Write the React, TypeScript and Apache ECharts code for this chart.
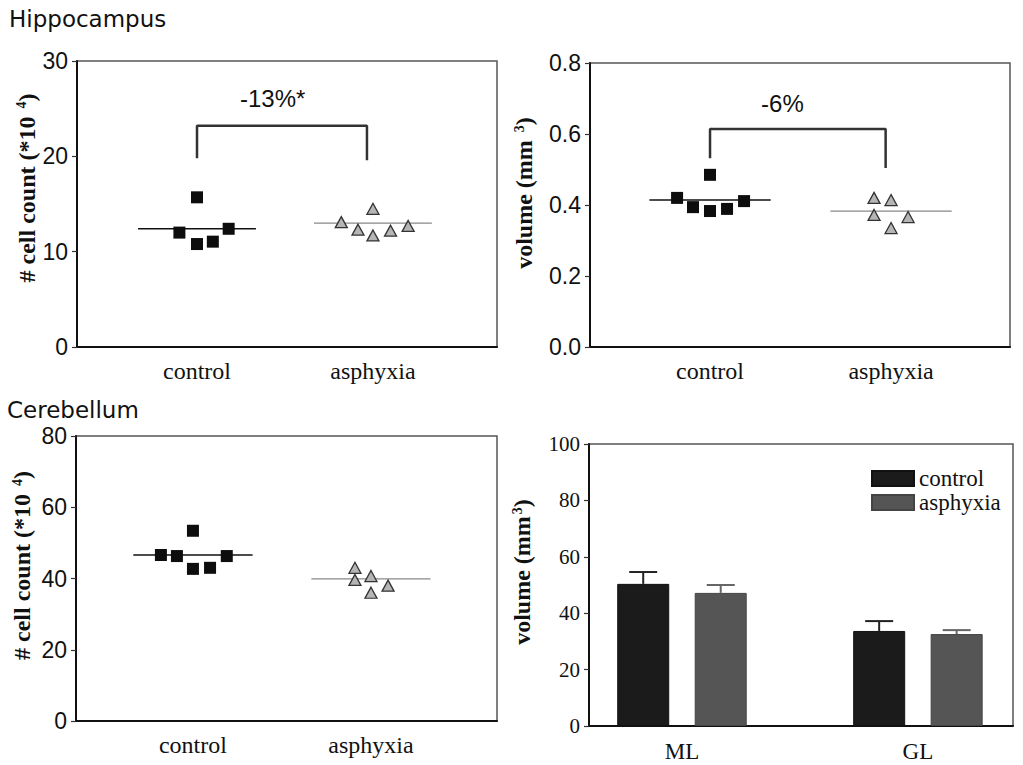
import React, { useEffect, useRef } from 'react';
import * as echarts from 'echarts';

// ---------- data ----------
const categories = ['control', 'asphyxia'];
const barCategories = ['ML', 'GL'];

// Hippocampus: cell count (*10^4)
const hipCountControlX = [0.9, 1.0, 1.0, 1.09, 1.18];
const hipCountControl = [12.0, 15.7, 10.8, 11.05, 12.4];
const hipCountAsphyxiaX = [1.82, 1.915, 2.0, 2.0, 2.1, 2.2];
const hipCountAsphyxia = [13.1, 12.3, 14.5, 11.7, 12.2, 12.7];
const hipCountMeans = [12.4, 13.0];
const hipCountBracketX = [1.0, 1.966];
const hipCountBracketY = [19.8, 23.2, 19.6];
const hipCountNote = '-13%*';
const hipCountNotePos = [1.43, 26.1];
const hipCountTicks = [0, 30, 10];

// Hippocampus: volume (mm^3)
const hipVolControlX = [0.818, 0.906, 1.0, 1.0, 1.094, 1.188];
const hipVolControl = [0.42, 0.394, 0.485, 0.383, 0.389, 0.411];
const hipVolAsphyxiaX = [1.906, 1.906, 2.0, 2.0, 2.094];
const hipVolAsphyxia = [0.42, 0.372, 0.414, 0.335, 0.366];
const hipVolMeans = [0.414, 0.383];
const hipVolBracketX = [1.0, 1.97];
const hipVolBracketY = [0.532, 0.614, 0.504];
const hipVolNote = '-6%';
const hipVolNotePos = [1.4, 0.687];
const hipVolTicks = [0, 0.8, 0.2];

// Cerebellum: cell count (*10^4)
const cerCountControlX = [0.82, 0.91, 1.0, 1.0, 1.096, 1.19];
const cerCountControl = [46.6, 46.3, 53.4, 42.7, 43.0, 46.3];
const cerCountAsphyxiaX = [1.91, 1.91, 2.0, 2.0, 2.096];
const cerCountAsphyxia = [43.0, 39.6, 40.7, 36.0, 38.0];
const cerCountMeans = [46.6, 39.9];
const cerCountTicks = [0, 80, 20];

// Cerebellum: layer volume (mm^3), mean and SEM
const cerVolControl = [50.4, 33.7];
const cerVolControlErr = [4.2, 3.5];
const cerVolAsphyxia = [47.2, 32.6];
const cerVolAsphyxiaErr = [2.8, 1.4];
const cerVolTicks = [0, 100, 20];

// ---------- styles ----------
const SANS = 'Liberation Sans, Arial, sans-serif';
const SERIF = 'Liberation Serif, Times New Roman, serif';
const MEAN_HALF = 0.335;

const yName = (base: string, sup: string) => `{a|${base}}{s|${sup}}{a|)}`;
const nameRich = {
  a: { fontFamily: SERIF, fontWeight: 'bold', fontSize: 24, color: '#111' },
  s: { fontFamily: SERIF, fontWeight: 'bold', fontSize: 14, color: '#111', verticalAlign: 'top', padding: [0, 0, 10, 2] },
};

type Panel = {
  idx: number;
  grid: { left: number; top: number; width: number; height: number };
  xRange: [number, number];
  ticks: number[];
  decimals: number;
  tickFont: string;
  tickSize: number;
  name: string;
  nameGap: number;
  namePad: number;
  labels: string[];
  labelMargin: number;
};

function axesFor(p: Panel) {
  const grid = {
    left: p.grid.left,
    top: p.grid.top,
    width: p.grid.width,
    height: p.grid.height,
    show: true,
    borderColor: '#555',
    borderWidth: 1.5,
    backgroundColor: 'transparent',
    containLabel: false,
  };
  const xAxis = {
    type: 'value',
    gridIndex: p.idx,
    min: p.xRange[0],
    max: p.xRange[1],
    splitLine: { show: false },
    axisTick: { show: false },
    axisLine: { show: true, lineStyle: { color: '#111', width: 2 } },
    axisLabel: {
      customValues: [1, 2],
      formatter: (v: number) => p.labels[Math.round(v) - 1] ?? '',
      fontFamily: SERIF,
      fontSize: p.labels === barCategories ? 23 : 24,
      color: '#111',
      margin: p.labelMargin,
    },
  };
  const yAxis = {
    type: 'value',
    gridIndex: p.idx,
    min: p.ticks[0],
    max: p.ticks[1],
    interval: p.ticks[2],
    splitLine: { show: false },
    axisLine: { show: true, lineStyle: { color: '#111', width: 2 } },
    axisTick: { show: true, length: 5, lineStyle: { color: '#333', width: 1.2 } },
    axisLabel: {
      fontFamily: p.tickFont,
      fontSize: p.tickSize,
      color: '#111',
      margin: 9,
      formatter: (v: number) => v.toFixed(p.decimals),
    },
    name: p.name,
    nameLocation: 'middle',
    nameGap: p.nameGap,
    nameTextStyle: { rich: nameRich, padding: [0, 0, 0, p.namePad] },
  };
  return { grid, xAxis, yAxis };
}

function scatterSeries(
  idx: number,
  key: string,
  cx: number[], cy: number[], ax: number[], ay: number[],
  means: number[],
  bracketX?: number[], bracketY?: number[], note?: string, notePos?: number[],
) {
  const s: any[] = [
    {
      type: 'line', name: key + '-cmean', xAxisIndex: idx, yAxisIndex: idx,
      data: [[1 - MEAN_HALF, means[0]], [1 + MEAN_HALF, means[0]]],
      symbol: 'none', lineStyle: { color: '#111', width: 1.6 }, silent: true, z: 2,
    },
    {
      type: 'line', name: key + '-amean', xAxisIndex: idx, yAxisIndex: idx,
      data: [[2 - MEAN_HALF, means[1]], [2 + MEAN_HALF, means[1]]],
      symbol: 'none', lineStyle: { color: '#888', width: 1.2 }, silent: true, z: 2,
    },
    {
      type: 'scatter', name: key + '-control', xAxisIndex: idx, yAxisIndex: idx,
      data: cx.map((x, i) => [x, cy[i]]),
      symbol: 'rect', symbolSize: 12,
      itemStyle: { color: '#0d0d0d', opacity: 1 }, z: 3,
    },
    {
      type: 'scatter', name: key + '-asphyxia', xAxisIndex: idx, yAxisIndex: idx,
      data: ax.map((x, i) => [x, ay[i]]),
      symbol: 'triangle', symbolSize: [12, 11],
      itemStyle: { color: '#b5b5b5', borderColor: '#333', borderWidth: 1.3, opacity: 1 }, z: 3,
    },
  ];
  if (bracketX && bracketY) {
    s.push({
      type: 'line', name: key + '-bracket', xAxisIndex: idx, yAxisIndex: idx,
      data: [
        [bracketX[0], bracketY[0]], [bracketX[0], bracketY[1]],
        [bracketX[1], bracketY[1]], [bracketX[1], bracketY[2]],
      ],
      symbol: 'none', lineStyle: { color: '#333', width: 2.5 }, silent: true, z: 2,
    });
  }
  if (note && notePos) {
    s.push({
      type: 'scatter', name: key + '-note', xAxisIndex: idx, yAxisIndex: idx,
      data: [notePos], symbolSize: 0, silent: true,
      itemStyle: { opacity: 1 },
      label: {
        show: true, position: 'inside', formatter: note,
        fontFamily: SANS, fontSize: 24, color: '#111', opacity: 1,
      },
    });
  }
  return s;
}

function errorSeries(idx: number, name: string, vals: number[], errs: number[], offset: number, color: string) {
  return {
    type: 'custom', name, xAxisIndex: idx, yAxisIndex: idx, silent: true, z: 4,
    data: vals.map((v, i) => [i + 1, v, errs[i]]),
    renderItem: (_params: any, api: any) => {
      const x = api.value(0), y = api.value(1), e = api.value(2);
      const base = api.coord([x, y]);
      const top = api.coord([x, y + e]);
      const cx = base[0] + offset;
      return {
        type: 'group',
        children: [
          { type: 'line', shape: { x1: cx, y1: base[1], x2: cx, y2: top[1] }, style: { stroke: color, lineWidth: 2 } },
          { type: 'line', shape: { x1: cx - 14, y1: top[1], x2: cx + 14, y2: top[1] }, style: { stroke: color, lineWidth: 2 } },
        ],
      };
    },
  };
}

export default function App() {
  const ref = useRef<HTMLDivElement>(null);

  useEffect(() => {
    if (!ref.current) return;
    const chart = echarts.init(ref.current, undefined, { renderer: 'svg' });

    const panels: Panel[] = [
      {
        idx: 0, grid: { left: 77, top: 61, width: 420, height: 286 }, xRange: [0.318, 2.705],
        ticks: hipCountTicks, decimals: 0, tickFont: SANS, tickSize: 23,
        name: yName('# cell count (*10 ', '4'), nameGap: 38, namePad: 32, labels: categories, labelMargin: 12,
      },
      {
        idx: 1, grid: { left: 590, top: 63, width: 420, height: 284 }, xRange: [0.337, 2.657],
        ticks: hipVolTicks, decimals: 1, tickFont: SANS, tickSize: 23,
        name: yName('volume (mm ', '3'), nameGap: 54, namePad: 24, labels: categories, labelMargin: 12,
      },
      {
        idx: 2, grid: { left: 76, top: 436, width: 421, height: 285 }, xRange: [0.343, 2.708],
        ticks: cerCountTicks, decimals: 0, tickFont: SANS, tickSize: 23,
        name: yName('# cell count (*10 ', '4'), nameGap: 42, namePad: 26, labels: categories, labelMargin: 12,
      },
      {
        idx: 3, grid: { left: 589, top: 444, width: 424, height: 282 }, xRange: [0.606, 2.403],
        ticks: cerVolTicks, decimals: 0, tickFont: SERIF, tickSize: 21,
        name: yName('volume (mm', '3'), nameGap: 55, namePad: 26, labels: barCategories, labelMargin: 14,
      },
    ];

    const built = panels.map(axesFor);

    const series: any[] = [
      ...scatterSeries(0, 'hipCount', hipCountControlX, hipCountControl, hipCountAsphyxiaX, hipCountAsphyxia,
        hipCountMeans, hipCountBracketX, hipCountBracketY, hipCountNote, hipCountNotePos),
      ...scatterSeries(1, 'hipVol', hipVolControlX, hipVolControl, hipVolAsphyxiaX, hipVolAsphyxia,
        hipVolMeans, hipVolBracketX, hipVolBracketY, hipVolNote, hipVolNotePos),
      ...scatterSeries(2, 'cerCount', cerCountControlX, cerCountControl, cerCountAsphyxiaX, cerCountAsphyxia,
        cerCountMeans),
      {
        type: 'bar', name: 'control', xAxisIndex: 3, yAxisIndex: 3,
        data: cerVolControl.map((v, i) => [i + 1, v]),
        barWidth: 52, barGap: '49%',
        itemStyle: { color: '#1b1b1b', borderColor: '#111', borderWidth: 1 },
      },
      {
        type: 'bar', name: 'asphyxia', xAxisIndex: 3, yAxisIndex: 3,
        data: cerVolAsphyxia.map((v, i) => [i + 1, v]),
        barWidth: 52, barGap: '49%',
        itemStyle: { color: '#555555', borderColor: '#444', borderWidth: 1 },
      },
      errorSeries(3, 'controlErr', cerVolControl, cerVolControlErr, -38.75, '#222'),
      errorSeries(3, 'asphyxiaErr', cerVolAsphyxia, cerVolAsphyxiaErr, 38.75, '#666'),
    ];

    chart.setOption({
      animation: false,
      backgroundColor: '#ffffff',
      title: [
        {
          text: 'Hippocampus', left: 4, top: 2,
          textStyle: { fontFamily: 'DejaVu Sans, sans-serif', fontSize: 23, fontWeight: 'normal', color: '#111' },
        },
        {
          text: 'Cerebellum', left: 2, top: 393,
          textStyle: { fontFamily: 'DejaVu Sans, sans-serif', fontSize: 23, fontWeight: 'normal', color: '#111' },
        },
      ],
      legend: {
        data: ['control', 'asphyxia'],
        orient: 'vertical',
        left: 866, top: 462,
        itemWidth: 42, itemHeight: 15, itemGap: 1,
        icon: 'rect',
        textStyle: { fontFamily: SERIF, fontSize: 23, color: '#111' },
      },
      grid: built.map((b) => b.grid),
      xAxis: built.map((b) => b.xAxis),
      yAxis: built.map((b) => b.yAxis),
      series,
    });

    return () => chart.dispose();
  }, []);

  return (
    <div
      ref={ref}
      style={{ position: 'fixed', left: 0, top: 0, width: 1023, height: 765, background: '#fff' }}
    />
  );
}
